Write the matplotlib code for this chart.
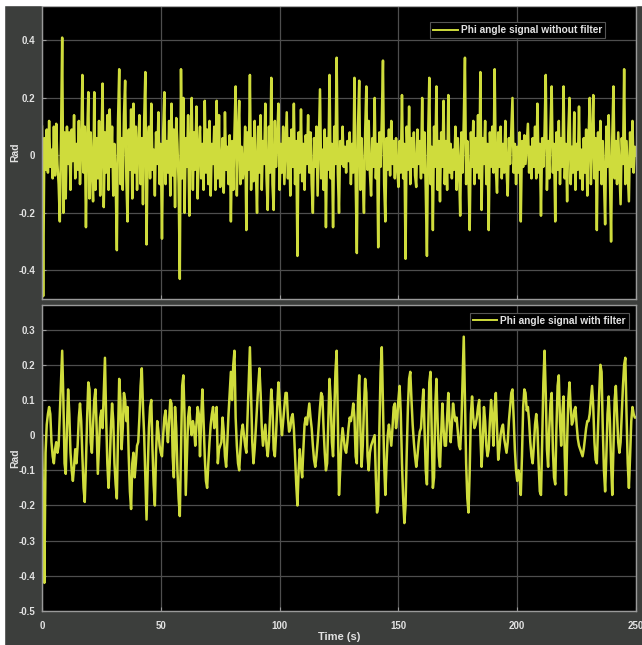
import numpy as np
import matplotlib
matplotlib.use("Agg")
import matplotlib.pyplot as plt
from matplotlib.patches import Rectangle

plt.rcParams['font.family'] = ['Liberation Sans', 'DejaVu Sans']

# sample step of the scope (s)
dt = 0.5

# phi angle without filter, in hundredths of rad, one value every 0.5 s (t = 0 .. 250)
phi_raw_cr = [
    10, -49, 6, -5, 9, -6, 12, -4, 2, -8, 10, -7, 11, -3, -10, -23, 5, 41, -20, 8,
    -15, 10, -3, 8, -12, 9, -2, 14, -8, 4, -5, 12, -10, 3, 28, -6, 10, -25, 5, 22,
    -15, 8, -5, -16, 22, -12, 6, -8, 12, -14, 3, 25, -18, 8, -6, 14, -12, 16, -4, 10,
    -14, 4, -8, -33, 12, 30, -10, 6, -12, 14, 26, -8, -23, 9, -5, 16, -15, 18, -6, 10,
    -12, 3, 14, -10, 6, -17, 12, 29, -31, 5, 10, -8, 18, -5, 2, -14, 8, -3, 15, -10,
    4, -29, 8, 22, -10, 5, -6, 12, -14, 18, -7, 9, -18, 13, 4, -10, -43, 30, -8, 20,
    -20, 6, -4, 14, -21, 3, 20, -12, 8, -5, 17, -15, 2, 10, -8, 4, -12, 19, -6, 9,
    -10, 12, -14, 4, -3, 10, -12, 19, -8, 14, -11, -4, 6, -13, 15, -5, 3, -10, 7, -23,
    5, -12, 8, 24, -14, 6, 19, -10, 3, -8, -4, 10, -26, 8, -5, 28, -12, 6, -9, 12,
    -5, -20, 10, -6, 14, -12, 5, -3, 18, -8, -19, 10, -6, 27, -10, -19, 12, -4, 6, 18,
    -12, 4, -6, 10, -10, 3, 15, -8, 6, -14, 9, -4, 18, -10, 5, -35, 8, -6, 16, -9,
    4, -12, 7, -3, 14, -6, 8, -10, -20, 6, -4, 10, -14, 5, 23, -8, 2, -12, 9, -25,
    6, -5, 28, -8, 4, -25, 10, -3, 34, -6, -20, 5, -3, 10, -4, 3, -6, 5, -2, 8,
    -10, 4, -6, 27, -8, -34, 10, 26, -12, 6, -8, -20, 8, 24, -5, 12, -6, -14, 6, -4,
    20, -8, 4, -32, 8, -4, 12, 33, -10, -23, 6, -5, 9, -7, 12, -3, 5, -8, 6, -4,
    -11, 5, -6, 21, -8, 4, -36, 10, -5, 17, -10, 6, -4, 8, -7, -11, 9, -3, 5, -8,
    20, -6, 8, -12, -35, 6, 27, -10, 3, -26, 10, -4, 24, -12, 5, -16, 8, -4, 19, -10,
    5, -12, 21, -6, 4, -8, 2, -5, 10, -12, 6, -4, -21, 8, -6, 12, 34, -10, 5, -8,
    -26, 8, -4, 12, -10, 6, -6, 14, -8, 29, -19, 6, -3, 12, -10, 4, -26, 8, -4, 10,
    -6, 30, -5, -13, 8, -4, 10, -8, 4, -6, 12, -5, -14, 6, -3, 8, 20, -6, 4, -10,
    3, -6, 8, -23, 5, -4, 7, -3, 4, 11, -6, 3, -8, 6, -4, 10, -8, 18, -6, 4,
    -21, 6, -4, 8, 28, -12, 5, -8, 10, 24, -6, 4, -23, 8, -5, 12, -10, 6, -4, 24,
    -8, 4, -16, 8, 20, -10, 3, -6, 15, -12, 4, -5, 17, -8, 2, -12, 6, -6, 9, -14,
    5, 20, -10, 4, 21, -8, 6, -26, 8, -5, 12, -10, 5, -8, -24, 10, -4, 14, -6, -30,
    6, 24, -8, 5, -10, 8, -4, -17, 6, -3, 30, -10, 5, -6, -16, 8, -4, 12, -6, 3,
    0,
]

# phi angle with filter, in hundredths of rad, one value every 0.5 s
phi_filt_cr = [
    0, -20, -42, -5, 3, 6, 8, 6, -2, -6, -8, -4, -2, -5, -3, 6, 15, 24, 10, -8,
    -11, 2, 13, 6, -5, -10, -13, -9, -4, -8, -3, 5, 9, 4, -6, -15, -19, -8, 5, 15,
    13, -2, -5, 3, 10, 13, 2, -11, -3, 5, 7, 2, 12, 22, 5, -8, -15, -8, 2, 9,
    4, -8, -14, -18, 0, 16, 10, -4, 2, 12, 10, 4, 8, -6, -16, -21, -8, -5, -12, -8,
    -3, -2, 5, 14, 19, 8, 0, -12, -24, -10, 2, 8, 10, -4, -14, -20, -5, 4, 1, -3,
    -5, -6, 0, 5, 7, 2, -2, 4, 10, 9, -6, -12, 8, 2, -10, -18, -23, -5, 14, 17,
    5, -17, -6, 5, 8, 3, 0, 4, 2, -3, 3, 8, 6, -6, 5, 13, 4, -6, -13, -15,
    -8, -2, 3, 6, 8, 2, 4, 8, -8, -4, -3, -2, 5, 1, -6, -9, -2, 6, 12, 18,
    10, 20, 24, 5, -3, -8, -10, -4, 1, 3, 0, -3, -5, 5, 15, 25, 12, -2, -8, -4,
    2, 8, 14, 19, 12, 2, -3, 0, 3, -3, -6, -2, 6, 13, 8, -4, -6, 0, 8, 15,
    10, 4, 0, 4, 8, 12, 12, 5, 1, 2, 5, 6, 2, -6, -14, -20, -10, -4, -9, -12,
    -4, 3, 5, 3, 6, 9, 5, 2, -3, -7, -9, -6, -2, 3, 8, 12, 11, 2, -5, -10,
    -8, 4, 16, 10, -2, -6, 6, 18, 24, 5, -17, -10, -2, 2, -1, -4, -5, -2, 2, 5,
    4, 6, 9, 5, -6, -8, 10, 17, 2, -9, -3, 8, 16, 12, -6, -10, -5, -3, -2, -1,
    0, -12, -22, -20, 2, 18, 25, 8, -8, -17, -8, 0, 3, 0, -3, 2, 8, 9, 2, 5,
    10, 14, 6, -8, -18, -25, -20, -5, 8, 16, 18, 10, 3, -2, -6, -9, -6, -2, 1, 2,
    8, 13, 2, -10, -14, 0, 15, 18, 2, -15, -12, 8, 16, 4, -6, -9, 0, 9, 2, -3,
    -3, 5, 12, 4, -2, 3, 9, 6, 4, 5, 1, -3, -4, 3, 15, 28, 10, -8, -18, -22,
    -10, 6, 11, 5, 2, 3, 5, 8, 10, 0, -9, -2, 8, 4, -3, -6, -4, 4, 10, 5,
    -3, 8, 12, 2, -7, -4, 0, 2, 3, -1, -3, -5, -2, 4, 8, 12, 13, 5, -4, -10,
    -13, -10, -12, -17, -6, 8, 13, 12, 7, 8, 4, -2, -6, -8, -3, 3, 6, 2, -8, -16,
    -17, -2, 15, 24, 12, -4, -9, 2, 9, 12, -4, -12, -14, 2, 14, 17, 4, -3, 6, 11,
    -6, -17, -2, 10, 15, 8, 3, 4, 7, 8, 3, -1, -3, -4, -5, -6, -4, -1, 2, 4,
    4, 6, 10, 14, 8, -2, -7, -8, 2, 12, 20, 18, 2, -10, -16, -6, 6, 11, 4, -8,
    -17, -4, 10, 14, 6, -2, -5, -2, 6, 14, 20, 22, 6, -8, -15, -6, 4, 8, 6, 5,
    5,
]

x_ticks = [0, 50, 100, 150, 200, 250]
top_yticks = [-0.4, -0.2, 0, 0.2, 0.4]
bottom_yticks = [-0.5, -0.4, -0.3, -0.2, -0.1, 0, 0.1, 0.2, 0.3]

phi_raw = np.array(phi_raw_cr) / 100
phi_filt = np.array(phi_filt_cr) / 100
t_raw = np.arange(len(phi_raw)) * dt
t_filt = np.arange(len(phi_filt)) * dt

bg = '#3c3e3c'
line_col = '#cfdc3c'
txt_col = '#e2e2e2'

fig = plt.figure(figsize=(6.42, 6.45), dpi=100, facecolor=bg)

# white border of the screenshot
fig.patches.append(Rectangle((0, 0), 4 / 642, 1, transform=fig.transFigure, color='white', zorder=0))
fig.patches.append(Rectangle((0, 1 - 5 / 645), 1, 5 / 645, transform=fig.transFigure, color='white', zorder=0))

ax1 = fig.add_axes([0.0654, 0.5364, 0.9253, 0.4543])
ax2 = fig.add_axes([0.0654, 0.0527, 0.9253, 0.4744])


def style_axes(ax, yticks, ylim):
    ax.set_facecolor('black')
    ax.set_xlim(0, 250)
    ax.set_ylim(*ylim)
    ax.set_xticks(x_ticks)
    ax.set_yticks(yticks)
    ax.set_yticklabels([f"{v:g}" for v in yticks])
    ax.grid(True, color='#4e4e4e', linewidth=0.9)
    ax.set_axisbelow(True)
    for s in ax.spines.values():
        s.set_color('#9a9a9a')
        s.set_linewidth(1.0)
    ax.tick_params(direction='in', length=3, color='#9a9a9a', labelcolor=txt_col,
                   labelsize=7, pad=5)
    for lab in ax.get_xticklabels() + ax.get_yticklabels():
        lab.set_fontweight('bold')
    ax.set_ylabel('Rad', color=txt_col, fontsize=7.5, fontweight='bold')
    ax.yaxis.set_label_coords(-0.036, 0.5)


style_axes(ax1, top_yticks, (-0.5, 0.52))
style_axes(ax2, bottom_yticks, (-0.5, 0.37))
ax1.tick_params(labelbottom=False)
ax2.tick_params(axis='x', pad=7)
ax2.set_xlabel('Time (s)', color=txt_col, fontsize=8, fontweight='bold', labelpad=1)

ax1.plot(t_raw, phi_raw, color=line_col, linewidth=1.8, label='Phi angle signal without filter')
ax2.plot(t_filt, phi_filt, color=line_col, linewidth=1.8, label='Phi angle signal with filter')

for ax, anchor in [(ax1, (0.948, 0.945)), (ax2, (0.988, 0.974))]:
    leg = ax.legend(loc='upper right', bbox_to_anchor=anchor, borderaxespad=0,
                    fancybox=False, facecolor='black', edgecolor='#555555',
                    framealpha=1, handlelength=2.4, handletextpad=0.3, borderpad=0.3,
                    prop={'size': 7.3, 'weight': 'bold'})
    leg.get_frame().set_linewidth(0.8)
    for line in leg.get_lines():
        line.set_linewidth(1.4)
    for text in leg.get_texts():
        text.set_color(txt_col)

fig.savefig('out.png', dpi=100, facecolor=fig.get_facecolor())
